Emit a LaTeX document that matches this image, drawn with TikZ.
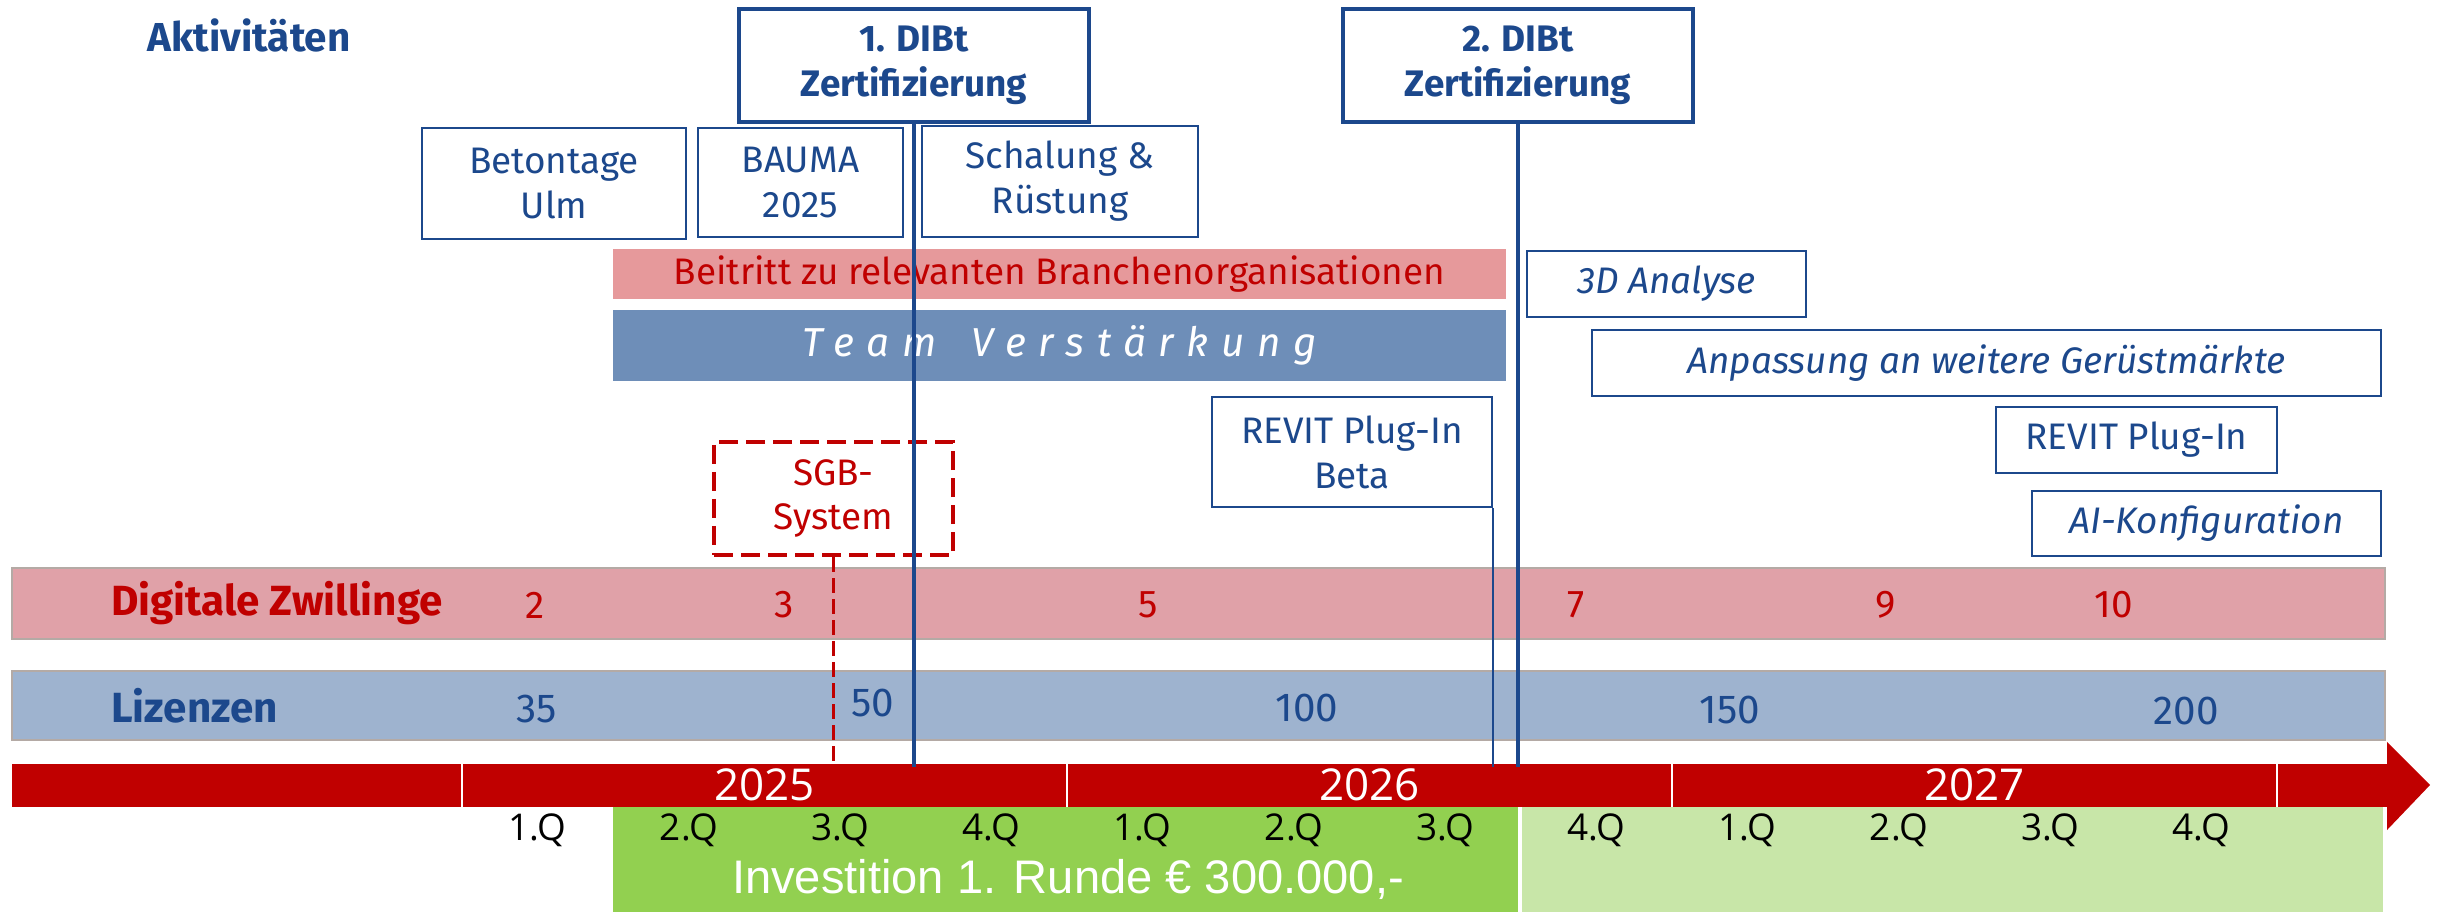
\documentclass[tikz,border=0pt]{standalone}
\usepackage{fontspec}
\setmainfont{Fira Sans}
\newfontfamily\axisfont{Open Sans}
\newfontfamily\investfont{Liberation Sans}
\usetikzlibrary{positioning}

\definecolor{kblue}{RGB}{28,72,140}
\definecolor{kred}{RGB}{192,0,0}
\definecolor{beitrittrose}{RGB}{230,153,155}
\definecolor{teamblue}{RGB}{110,142,184}
\definecolor{zwillingrose}{RGB}{224,161,168}
\definecolor{lizenzblue}{RGB}{158,179,207}
\definecolor{barrim}{RGB}{180,170,165}
\definecolor{invgreen}{RGB}{146,208,80}
\definecolor{restgreen}{RGB}{200,230,168}

\begin{document}
\begin{tikzpicture}[
    actbox/.style={draw=kblue, line width=0.7pt, fill=white, text=kblue, align=center, inner sep=0pt,
      font=\fontsize{10.5}{12.8}\selectfont},
    actital/.style={actbox, font=\fontsize{10.5}{12.8}\selectfont\itshape},
    dibtbox/.style={actbox, line width=1.3pt, minimum width=3.5cm, minimum height=1.13cm,
      font=\fontsize{10.5}{12.8}\selectfont\bfseries},
    stripbar/.style={inner sep=0pt, minimum width=8.93cm},
    rowbar/.style={draw=barrim, line width=0.8pt, inner sep=0pt, minimum width=23.73cm},
    rowlabel/.style={inner sep=0pt, font=\fontsize{12}{15}\selectfont\bfseries},
    dznum/.style={text=kred, font=\fontsize{11}{13}\selectfont},
    liznum/.style={text=kblue, font=\fontsize{11.5}{13}\selectfont},
    yearlabel/.style={text=white, font=\fontsize{12.5}{15}\selectfont\axisfont},
    qlabel/.style={font=\fontsize{10.5}{13}\selectfont\axisfont},
    dibtline/.style={draw=kblue, line width=1.3pt},
    betaline/.style={draw=kblue, line width=0.65pt},
    sgbline/.style={draw=kred, line width=0.9pt, dash pattern=on 1.5mm off 0.6mm}
  ]
  \useasboundingbox (0,0) rectangle (24.4,9.12);

  % Timeline
  \coordinate (tltop) at (0,1.45);
  \fill[kred] (0.12,1.05) rectangle (23.87,1.48);
  \fill[kred] (23.87,1.70) -- (24.30,1.27) -- (23.87,0.82) -- cycle;
  \foreach \x in {4.62,10.67,16.72,22.77}
    \draw[white, line width=0.8pt] (\x,1.05) -- (\x,1.48);
  \foreach \x/\y in {7.645/2025, 13.695/2026, 19.745/2027}
    \node[yearlabel] at (\x,1.27) {\y};

  % Investment
  \fill[invgreen] (6.13,0) rectangle (15.18,1.05);
  \fill[restgreen] (15.22,0) rectangle (23.83,1.05);
  \node[text=white, font=\fontsize{13.4}{15}\selectfont\investfont] (invest) at (10.68,0.33) {Investition 1. Runde € 300.000,-};
  \foreach \q [count=\i from 0] in {1,2,3,4,1,2,3,4,1,2,3,4}
    \node[qlabel] at ({4.62+1.5125*(\i+0.5)},0.82) {\q.Q};

  % Rows
  \node[rowbar, fill=zwillingrose, minimum height=0.71cm] (zwillinge) at (11.985,3.085) {};
  \node[rowlabel, text=kred, right=1.0cm of zwillinge.west] {Digitale Zwillinge};
  \foreach \x/\n in {5.35/2, 7.84/3, 11.48/5, 15.76/7, 18.86/9, 21.14/10}
    \node[dznum] at (\x,3.07) {\n};

  \node[rowbar, fill=lizenzblue, minimum height=0.69cm] (lizenzen) at (11.985,2.065) {};
  \node[rowlabel, text=kblue, right=1.0cm of lizenzen.west] {Lizenzen};
  \foreach \x/\y/\n in {5.37/2.03/35, 8.73/2.09/50, 13.07/2.04/100, 17.30/2.02/150, 21.86/2.01/200}
    \node[liznum] at (\x,\y) {\n};

  % Activities
  \node[text=kblue, font=\fontsize{11.5}{14}\selectfont\bfseries, anchor=base] at (2.49,8.60) {Aktivitäten};

  \node[stripbar, fill=beitrittrose, minimum height=0.50cm, text=kred, font=\fontsize{10.5}{12.8}\selectfont] (beitritt) at (10.595,6.38) {Beitritt zu relevanten Branchenorganisationen};
  \node[stripbar, fill=teamblue, minimum height=0.71cm, text=white,
    font=\fontsize{11.5}{14}\selectfont\itshape\addfontfeatures{LetterSpace=31}] (team) at (10.595,5.665) {Team\hspace{3.5mm}Verstärkung};

  \node[actbox, minimum width=2.64cm, minimum height=1.11cm] (betontage) at (5.54,7.285) {Betontage\\Ulm};
  \node[actbox, minimum width=2.05cm, minimum height=1.09cm] (bauma) at (8.005,7.295) {BAUMA\\2025};
  \node[actbox, minimum width=2.76cm, minimum height=1.11cm] (schalung) at (10.60,7.305) {Schalung \&\\Rüstung};

  \node[actital, minimum width=2.79cm, minimum height=0.66cm] (analyse) at (16.665,6.28) {3D Analyse};
  \node[actital, minimum width=7.89cm, minimum height=0.66cm] (anpassung) at (19.865,5.49) {Anpassung an weitere Gerüstmärkte};
  \node[actbox, minimum width=2.80cm, minimum height=1.10cm] (revitbeta) at (13.52,4.60) {REVIT Plug-In\\Beta};
  \node[actbox, minimum width=2.81cm, minimum height=0.66cm] (revit) at (21.365,4.72) {REVIT Plug-In};
  \node[actital, minimum width=3.49cm, minimum height=0.65cm] (aikonf) at (22.065,3.885) {AI-Konfiguration};

  \node[actbox, draw=kred, text=kred, line width=1.3pt, dash pattern=on 1.9mm off 0.8mm,
    minimum width=2.39cm, minimum height=1.13cm] (sgb) at (8.335,4.135) {SGB-\\System};

  \node[dibtbox] (dibt1) at (9.14,8.465) {1. DIBt\\Zertifizierung};
  \node[dibtbox] (dibt2) at (15.18,8.465) {2. DIBt\\Zertifizierung};

  % Milestone lines
  \draw[dibtline] (dibt1.south) -- (dibt1.south |- tltop);
  \draw[dibtline] (dibt2.south) -- (dibt2.south |- tltop);
  \draw[betaline] (revitbeta.south east) -- (revitbeta.south east |- tltop);
  \draw[sgbline] (sgb.south) -- (sgb.south |- tltop);
\end{tikzpicture}
\end{document}
